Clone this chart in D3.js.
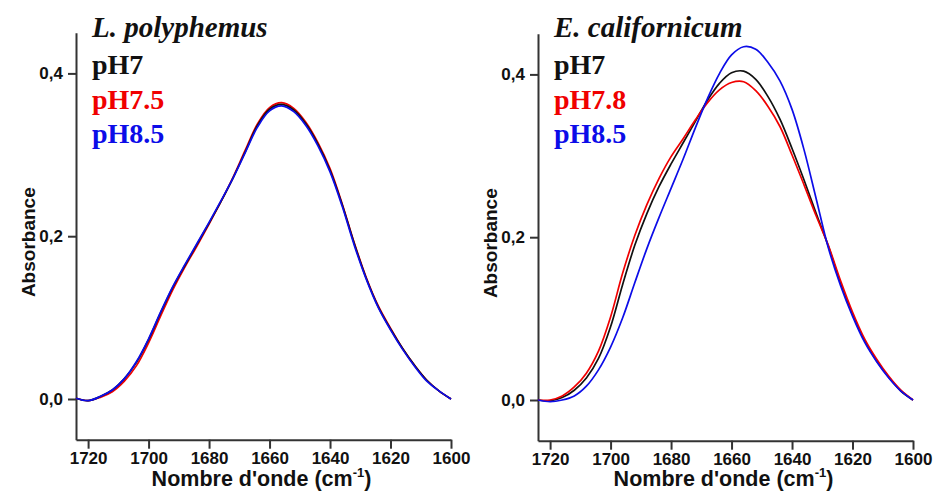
<!DOCTYPE html>
<html>
<head>
<meta charset="utf-8">
<script src="https://cdn.jsdelivr.net/npm/d3@7"></script>
<style>
  body { margin: 0; background: #fff; }
  svg { display: block; }
  .tick text { font-family: Arial, "Liberation Sans", sans-serif; font-weight: bold; font-size: 17px; fill: #111; }
  .domain, .tick line { stroke: #333; stroke-width: 2px; }
</style>
</head>
<body>
<div id="chart"></div>
<script>
var width = 935;
var height = 491;

// wavenumbers (cm-1), shared by every series
var wavenumbers = [1724, 1720, 1716, 1712, 1708, 1704, 1700, 1696, 1692, 1688, 1684, 1680, 1676, 1672, 1668, 1664,
                   1660, 1656, 1652, 1648, 1644, 1640, 1636, 1632, 1628, 1624, 1620, 1616, 1612, 1608, 1604, 1600];

// L. polyphemus
var polyPH7   = [0.001, -0.002, 0.003, 0.011, 0.025, 0.045, 0.073, 0.106, 0.137, 0.164, 0.190, 0.216, 0.243, 0.272, 0.304, 0.336,
                 0.356, 0.362, 0.355, 0.338, 0.313, 0.281, 0.239, 0.191, 0.148, 0.113, 0.086, 0.062, 0.041, 0.023, 0.010, 0.000];
var polyPH75  = [0.001, -0.002, 0.002, 0.009, 0.022, 0.041, 0.069, 0.102, 0.134, 0.162, 0.188, 0.215, 0.243, 0.273, 0.306, 0.338,
                 0.358, 0.364, 0.357, 0.340, 0.315, 0.283, 0.240, 0.192, 0.149, 0.114, 0.087, 0.062, 0.041, 0.023, 0.010, 0.000];
var polyPH85  = [0.001, -0.002, 0.003, 0.011, 0.025, 0.046, 0.074, 0.107, 0.138, 0.165, 0.191, 0.217, 0.244, 0.272, 0.303, 0.334,
                 0.354, 0.360, 0.353, 0.336, 0.311, 0.279, 0.237, 0.189, 0.147, 0.112, 0.085, 0.061, 0.040, 0.022, 0.010, 0.000];

// E. californicum
var caliPH7   = [0.000, -0.001, 0.003, 0.012, 0.027, 0.051, 0.090, 0.142, 0.190, 0.229, 0.262, 0.290, 0.316, 0.342, 0.368, 0.389,
                 0.402, 0.404, 0.394, 0.373, 0.345, 0.309, 0.270, 0.229, 0.189, 0.144, 0.105, 0.073, 0.048, 0.028, 0.011, 0.000];
var caliPH78  = [0.000, 0.000, 0.005, 0.016, 0.033, 0.060, 0.102, 0.156, 0.202, 0.240, 0.272, 0.299, 0.321, 0.344, 0.365, 0.381,
                 0.390, 0.391, 0.380, 0.361, 0.336, 0.301, 0.264, 0.226, 0.190, 0.147, 0.108, 0.075, 0.050, 0.029, 0.012, 0.000];
var caliPH85  = [0.000, -0.002, 0.000, 0.005, 0.017, 0.037, 0.065, 0.101, 0.144, 0.186, 0.224, 0.260, 0.296, 0.334, 0.370, 0.401,
                 0.424, 0.434, 0.431, 0.415, 0.392, 0.357, 0.307, 0.247, 0.187, 0.141, 0.103, 0.071, 0.047, 0.027, 0.011, 0.000];

var xTicks = [1720, 1700, 1680, 1660, 1640, 1620, 1600];
var yTicks = [0, 0.2, 0.4];

var panels = [
  { title: "L. polyphemus", left: 76, right: 451, zeroY: 399, series: [
      { name: "pH7", values: polyPH7, color: "#111111" },
      { name: "pH7.5", values: polyPH75, color: "#f00000" },
      { name: "pH8.5", values: polyPH85, color: "#0c0ce8" } ],
    drawOrder: [1, 0, 2] },
  { title: "E. californicum", left: 538, right: 913, zeroY: 400, series: [
      { name: "pH7", values: caliPH7, color: "#111111" },
      { name: "pH7.8", values: caliPH78, color: "#f00000" },
      { name: "pH8.5", values: caliPH85, color: "#0c0ce8" } ],
    drawOrder: [0, 1, 2] }
];

var svg = d3.select("#chart").append("svg")
    .attr("width", width)
    .attr("height", height);

svg.append("rect").attr("width", width).attr("height", height).attr("fill", "#ffffff");

var fmt = function(d) { return d3.format(".1f")(d).replace(".", ","); };

panels.forEach(function(p) {
  var x = d3.scaleLinear().domain([1724, 1600]).range([p.left, p.right]);
  // 0.2 absorbance ~ 163 px
  var y = d3.scaleLinear().domain([-0.05, 0.45]).range([p.zeroY + 0.05 * 814, p.zeroY - 0.45 * 814]);
  var bottom = y(-0.05);

  var g = svg.append("g");

  g.append("g")
    .attr("transform", "translate(0," + bottom + ")")
    .call(d3.axisBottom(x).tickValues(xTicks).tickSize(9).tickSizeOuter(0).tickPadding(3).tickFormat(d3.format("d")));

  g.append("g")
    .attr("transform", "translate(" + p.left + ",0)")
    .call(d3.axisLeft(y).tickValues(yTicks).tickSize(8).tickSizeOuter(0).tickPadding(5).tickFormat(fmt));

  var line = d3.line()
    .x(function(d, i) { return x(wavenumbers[i]); })
    .y(function(d) { return y(d); })
    .curve(d3.curveCatmullRom.alpha(0.5));

  p.drawOrder.forEach(function(k) {
    var s = p.series[k];
    g.append("path")
      .datum(s.values)
      .attr("fill", "none")
      .attr("stroke", s.color)
      .attr("stroke-width", 1.7)
      .attr("d", line);
  });

  // species name
  g.append("text")
    .attr("x", p.left + 16)
    .attr("y", 37)
    .style("font-family", "'Liberation Serif', 'Times New Roman', serif")
    .style("font-style", "italic")
    .style("font-weight", "bold")
    .style("font-size", "29px")
    .attr("fill", "#111")
    .text(p.title);

  // legend
  g.selectAll(".legend")
    .data(p.series)
    .enter()
    .append("text")
    .attr("x", p.left + 16)
    .attr("y", function(d, i) { return 74 + i * 34.5; })
    .style("font-family", "'Liberation Serif', 'Times New Roman', serif")
    .style("font-weight", "bold")
    .style("font-size", "28px")
    .attr("fill", function(d) { return d.color; })
    .text(function(d) { return d.name; });

  // axis titles
  g.append("text")
    .attr("transform", "translate(" + (p.left - 41) + "," + ((y(0.45) + bottom) / 2 + 6) + ") rotate(-90)")
    .attr("text-anchor", "middle")
    .style("font-family", "Arial, 'Liberation Sans', sans-serif")
    .style("font-weight", "bold")
    .style("font-size", "19px")
    .attr("fill", "#111")
    .text("Absorbance");

  var xt = g.append("text")
    .attr("x", (p.left + p.right) / 2 - 2)
    .attr("y", 486)
    .attr("text-anchor", "middle")
    .style("font-family", "Arial, 'Liberation Sans', sans-serif")
    .style("font-weight", "bold")
    .style("font-size", "21.5px")
    .attr("fill", "#111");
  xt.append("tspan").text("Nombre d'onde (cm");
  xt.append("tspan").attr("dy", -9).style("font-size", "13px").text("-1");
  xt.append("tspan").attr("dy", 9).text(")");
});
</script>
</body>
</html>
